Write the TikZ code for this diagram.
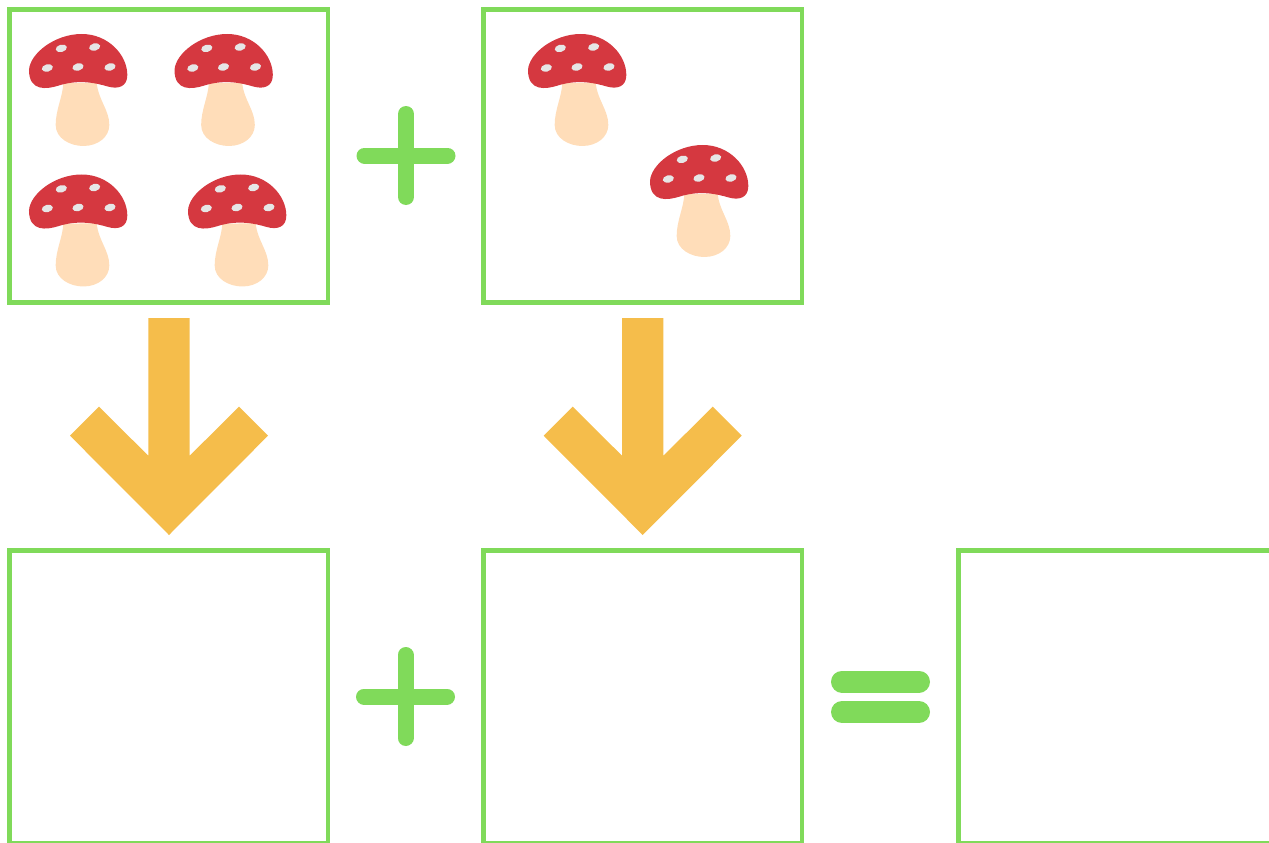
\documentclass[tikz,border=0pt]{standalone}
\usetikzlibrary{positioning}

\definecolor{boxgreen}{HTML}{80DA5A}
\definecolor{arrowyellow}{HTML}{F5BD4B}
\definecolor{capred}{HTML}{D53840}
\definecolor{stemcream}{HTML}{FFDDB9}
\definecolor{spotgrey}{HTML}{E6E6E6}

\tikzset{
	answerbox/.style={draw=boxgreen,line width=4.5pt,minimum width=318.5pt,minimum height=293pt,inner sep=0pt,outer sep=0pt},
	signbar/.style={draw=boxgreen,line cap=round},
	bigarrow/.style={fill=arrowyellow},
	mushroom/.pic={
		\begin{scope}[x=0.3333pt,y=-0.3333pt]
		\fill[stemcream] (145,190) .. controls (143,230) and (122,270) .. (122,315) .. controls (122,355) and (165,378) .. (205,378) .. controls (250,378) and (283,350) .. (283,315) .. controls (283,270) and (250,240) .. (245,188) -- cycle;
		\fill[capred] (42,150) .. controls (45,100) and (120,42) .. (200,42) .. controls (280,42) and (337,105) .. (337,165) .. controls (337,200) and (310,208) .. (280,200) .. controls (240,188) and (190,178) .. (130,197) .. controls (95,208) and (42,215) .. (42,150) -- cycle;
		\foreach \a/\b in {139/85,239/81,97/144,189/141,285/141}
			\fill[spotgrey,rotate around={14:(\a,\b)}] (\a,\b) ellipse (17 and 11);
		\end{scope}
	}
}

\begin{document}
\begin{tikzpicture}[x=1pt,y=-1pt]
\useasboundingbox (0,0) rectangle (1269,843);
\foreach \n/\x/\y in {qa/168.5/156,qb/642.5/156,ra/168.5/697,rb/642.5/697,rc/1117.5/697}
	\node[answerbox] (\n) at (\x,\y) {};
\foreach \x/\y in {15/20,160.5/20,15/160.5,174/160.5,514/20,636/131}
	\pic at (\x,\y) {mushroom};
\foreach \x in {169,642.7}
	\fill[bigarrow,shift={(\x,0)}] (-20.7,318)--(20.7,318)--(20.7,455.7)--(70,406.7)--(99,435.7)--(0,535)--(-99,435.7)--(-70,406.7)--(-20.7,455.7)--cycle;
\foreach \x/\y in {406/155.5,405.5/696.5}{
	\draw[signbar,line width=16pt] (\x-41.5,\y)--(\x+41.5,\y);
	\draw[signbar,line width=16pt] (\x,\y-41.5)--(\x,\y+41.5);
}
\foreach \y in {681.5,712}
	\draw[signbar,line width=22pt] (842,\y)--(919,\y);
\end{tikzpicture}
\end{document}
